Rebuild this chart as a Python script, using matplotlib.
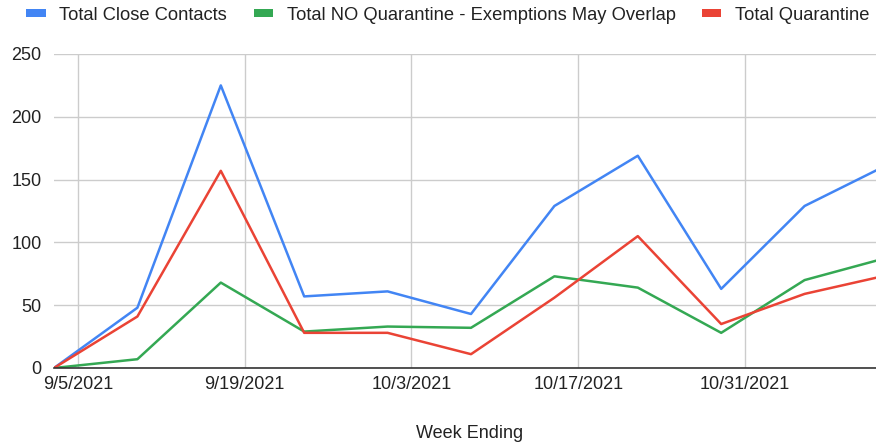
import matplotlib
matplotlib.use("Agg")
import matplotlib.pyplot as plt
from matplotlib.patches import Patch
import datetime as dt

weeks = ["2021-09-03", "2021-09-10", "2021-09-17", "2021-09-24", "2021-10-01", "2021-10-08",
         "2021-10-15", "2021-10-22", "2021-10-29", "2021-11-05", "2021-11-12"]
close_contacts = [0, 48, 225, 57, 61, 43, 129, 169, 63, 129, 162]
no_quarantine = [0, 7, 68, 29, 33, 32, 73, 64, 28, 70, 88]
quarantine = [0, 41, 157, 28, 28, 11, 56, 105, 35, 59, 74]

tick_dates = ["2021-09-05", "2021-09-19", "2021-10-03", "2021-10-17", "2021-10-31"]
tick_labels = ["9/5/2021", "9/19/2021", "10/3/2021", "10/17/2021", "10/31/2021"]
series_names = ["Total Close Contacts", "Total NO Quarantine - Exemptions May Overlap", "Total Quarantine"]
colors = ["#4285F4", "#34A853", "#EA4335"]

plt.rcParams['font.family'] = ['Liberation Sans', 'DejaVu Sans']

x = [dt.datetime.strptime(d, "%Y-%m-%d") for d in weeks]
tx = [dt.datetime.strptime(d, "%Y-%m-%d") for d in tick_dates]

fig = plt.figure(figsize=(8.76, 4.45), dpi=100)
# plot area: the full chart runs past the right edge of the picture (cropped reference)
left_px, right_px, full_right_px = 54, 876, 888
ax = fig.add_axes([left_px/876, 1-368/445, (right_px-left_px)/876, 314/445])

for vals, c in zip([close_contacts, no_quarantine, quarantine], colors):
    ax.plot(x, vals, color=c, lw=1.8, zorder=3)

span = x[-1] - x[0]
visible = (right_px - left_px) / (full_right_px - left_px)
ax.set_xlim(x[0], x[0] + span * visible)
ax.set_ylim(0, 250)
ax.set_yticks([0, 50, 100, 150, 200, 250])
ax.set_xticks(tx)
ax.set_xticklabels(tick_labels)
ax.tick_params(axis='both', length=0, labelsize=13, colors='#222222')
ax.tick_params(axis='y', pad=9)
ax.tick_params(axis='x', pad=6)
ax.grid(True, color='#cccccc', lw=1)
ax.set_axisbelow(True)
for s in ['top', 'right', 'left']:
    ax.spines[s].set_visible(False)
ax.spines['bottom'].set_color('#333333')
ax.spines['bottom'].set_linewidth(1.2)
ax.spines['bottom'].set_zorder(4)

ax.set_xlabel("Week Ending", fontsize=13, color='#222222')
ax.xaxis.set_label_coords((470 - left_px) / (right_px - left_px), -0.18)

handles = [Patch(facecolor=c, edgecolor='none') for c in colors]
fig.legend(handles, series_names, loc='center', bbox_to_anchor=(448/876, 1-15/445), ncol=3,
           frameon=False, fontsize=13.2, handlelength=1.05, handleheight=0.28,
           handletextpad=0.75, columnspacing=1.45, labelcolor='#222222')

fig.savefig("out.png", dpi=100, bbox_inches=None)
